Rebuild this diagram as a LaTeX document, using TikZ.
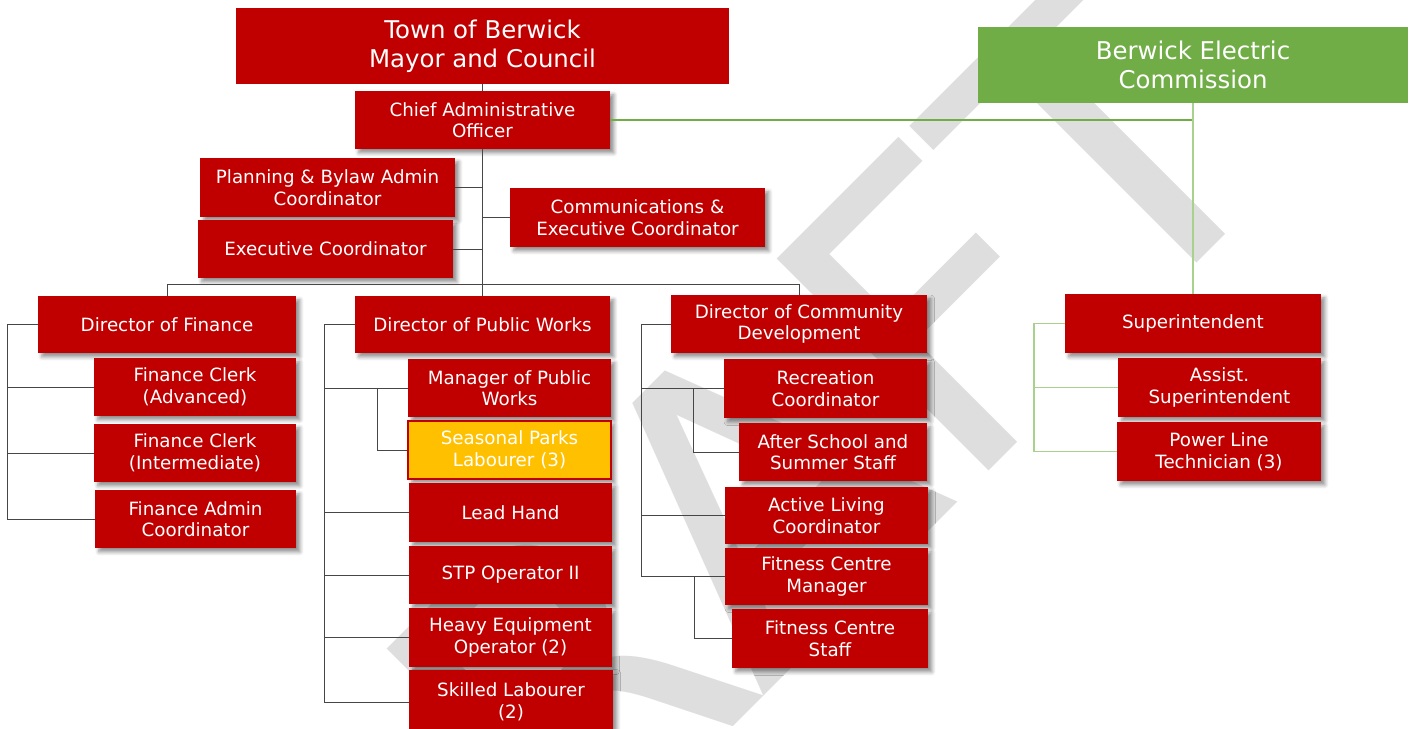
\documentclass[tikz,border=0pt]{standalone}
\usepackage{fontspec}
\setmainfont{DejaVu Sans}
\usetikzlibrary{shadows.blur}
\definecolor{doDam}{RGB}{192,0,0}
\definecolor{vang}{RGB}{255,192,0}
\definecolor{xanhLa}{RGB}{112,173,71}
\definecolor{xanhNhat}{RGB}{169,209,142}
\definecolor{xamNoi}{RGB}{70,70,70}
\definecolor{xamMo}{RGB}{222,222,222}

\begin{document}
\begin{tikzpicture}[x=0.02cm, y=-0.02cm,
    chuc/.style={fill=doDam, text=white, inner sep=0, align=center,
        font=\fontsize{10.4}{12.3}\selectfont,
        blur shadow={shadow xshift=2.2pt, shadow yshift=-2.2pt,
            shadow opacity=45, shadow blur steps=5}},
    tieude/.style={fill=doDam, text=white, inner sep=0, align=center,
        font=\fontsize{13.9}{16.5}\selectfont},
    noi/.style={draw=xamNoi, line width=0.45pt},
    noiXanh/.style={draw=xanhNhat, line width=0.6pt}]

    \useasboundingbox (0,0) rectangle (1413,728);
    \clip (0,0) rectangle (1413,728);

    % 1. Chữ mờ phía sau
    \node[rotate=45, anchor=base east, inner sep=0, text=xamMo,
        font=\fontsize{234}{240}\selectfont] (draft) at (1300,160) {DRAFT};

    % 2. Cấp trên cùng
    \node[tieude, minimum width=9.88cm, minimum height=1.52cm] (town) at (482.5,46) {Town of Berwick\\Mayor and Council};
    \node[tieude, fill=xanhLa, minimum width=8.62cm, minimum height=1.52cm] (bec) at (1193,65) {Berwick Electric\\Commission};
    \node[chuc, minimum width=5.1cm, minimum height=1.16cm] (cao) at (482.5,120) {Chief Administrative\\Officer};
    \node[chuc, minimum width=5.1cm, minimum height=1.18cm] (plan) at (327.5,187.5) {Planning \& Bylaw Admin\\Coordinator};
    \node[chuc, minimum width=5.1cm, minimum height=1.16cm] (exec) at (325.5,249) {Executive Coordinator};
    \node[chuc, minimum width=5.1cm, minimum height=1.18cm] (comms) at (637.5,217.5) {Communications \&\\Executive Coordinator};

    % 3. Tài chính
    \node[chuc, minimum width=5.16cm, minimum height=1.14cm] (dfin) at (167,324.5) {Director of Finance};
    \node[chuc, minimum width=4.04cm, minimum height=1.16cm] (fca) at (195,387) {Finance Clerk\\(Advanced)};
    \node[chuc, minimum width=4.04cm, minimum height=1.16cm] (fci) at (195,453) {Finance Clerk\\(Intermediate)};
    \node[chuc, minimum width=4.02cm, minimum height=1.16cm] (fadm) at (195.5,519) {Finance Admin\\Coordinator};

    % 4. Công trình công cộng
    \node[chuc, minimum width=5.1cm, minimum height=1.14cm] (dpw) at (482.5,324.5) {Director of Public Works};
    \node[chuc, minimum width=4.06cm, minimum height=1.16cm] (mpw) at (509.5,388) {Manager of Public\\Works};
    \node[chuc, fill=vang, draw=doDam, line width=1pt, minimum width=4.06cm, minimum height=1.16cm] (spl) at (509.5,450) {Seasonal Parks\\Labourer (3)};
    \node[chuc, minimum width=4.06cm, minimum height=1.18cm] (lead) at (510.5,512.5) {Lead Hand};
    \node[chuc, minimum width=4.06cm, minimum height=1.16cm] (stp) at (510.5,575) {STP Operator II};
    \node[chuc, minimum width=4.06cm, minimum height=1.18cm] (heavy) at (510.5,637.5) {Heavy Equipment\\Operator (2)};
    \node[chuc, minimum width=4.08cm, minimum height=1.3cm] (skilled) at (511,702) {Skilled Labourer\\(2)};

    % 5. Phát triển cộng đồng
    \node[chuc, minimum width=5.12cm, minimum height=1.16cm] (dcd) at (799,324) {Director of Community\\Development};
    \node[chuc, minimum width=4.06cm, minimum height=1.18cm] (rec) at (825.5,388.5) {Recreation\\Coordinator};
    \node[chuc, minimum width=3.76cm, minimum height=1.16cm] (asch) at (833,452) {After School and\\Summer Staff};
    \node[chuc, minimum width=4.06cm, minimum height=1.14cm] (alc) at (826.5,515.5) {Active Living\\Coordinator};
    \node[chuc, minimum width=4.06cm, minimum height=1.14cm] (fcm) at (826.5,576.5) {Fitness Centre\\Manager};
    \node[chuc, minimum width=3.92cm, minimum height=1.18cm] (fcs) at (830,638.5) {Fitness Centre\\Staff};

    % 6. Điện lực
    \node[chuc, minimum width=5.12cm, minimum height=1.18cm] (sup) at (1193,323.5) {Superintendent};
    \node[chuc, minimum width=4.06cm, minimum height=1.18cm] (asup) at (1219.5,387.5) {Assist.\\Superintendent};
    \node[chuc, minimum width=4.08cm, minimum height=1.18cm] (plt) at (1219,451.5) {Power Line\\Technician (3)};

    % 7. Đường nối
    \coordinate (hub) at (482.5,284);
    \coordinate (finRail) at (7,0);
    \coordinate (pwRail) at (324,0);
    \coordinate (mpwRail) at (377,0);
    \coordinate (cdRail) at (641,0);
    \coordinate (recRail) at (693,0);
    \coordinate (fitRail) at (694,0);
    \coordinate (supRail) at (1034,0);

    \draw[noi] (town) -- (cao);
    \draw[noi] (cao) -- (dpw);
    \draw[noi] (plan.east) -- (plan.east -| cao.south);
    \draw[noi] (exec.east) -- (exec.east -| cao.south);
    \draw[noi] (comms.west) -- (comms.west -| cao.south);
    \draw[noi] (dfin.north) |- (hub) -| (dcd.north);

    \draw[noi] (dfin.west) -- (dfin.west -| finRail) |- (fadm.west);
    \foreach \n in {fca,fci}
        \draw[noi] (\n.west -| finRail) -- (\n.west);

    \draw[noi] (dpw.west) -- (dpw.west -| pwRail) |- (skilled.west);
    \foreach \n in {mpw,lead,stp,heavy}
        \draw[noi] (\n.west -| pwRail) -- (\n.west);
    \draw[noi] (mpw.west -| mpwRail) |- (spl.west);

    \draw[noi] (dcd.west) -- (dcd.west -| cdRail) |- (fcm.west);
    \foreach \n in {rec,alc}
        \draw[noi] (\n.west -| cdRail) -- (\n.west);
    \draw[noi] (rec.west -| recRail) |- (asch.west);
    \draw[noi] (fcm.west -| fitRail) |- (fcs.west);

    \draw[draw=xanhLa, line width=0.7pt] (cao.east) -- (cao.east -| bec.south);
    \draw[noiXanh] (bec) -- (sup);
    \draw[noiXanh] (sup.west) -- (sup.west -| supRail) |- (plt.west);
    \draw[noiXanh] (asup.west -| supRail) -- (asup.west);
\end{tikzpicture}
\end{document}
